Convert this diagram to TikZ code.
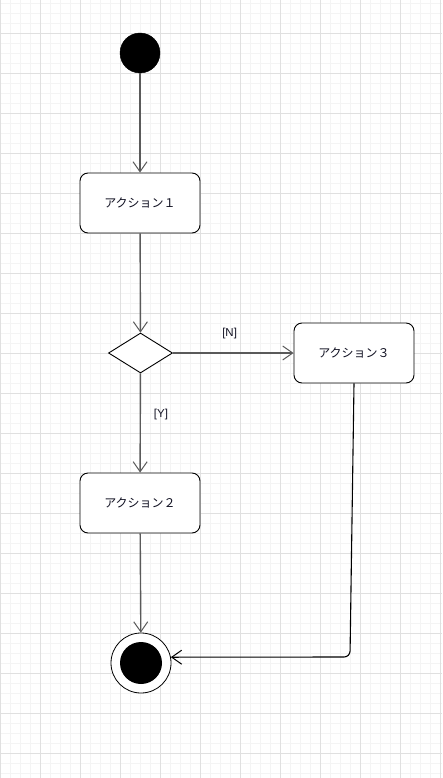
\documentclass[tikz,border=0pt]{standalone}
\usepackage{fontspec}
\newfontfamily\jpfont{Noto Sans CJK JP}
\usetikzlibrary{shapes.geometric,arrows.meta}
\definecolor{gridminor}{HTML}{F4F4F4}
\definecolor{gridmajor}{HTML}{E0E0E0}
\definecolor{connc}{HTML}{5A5A5A}
\definecolor{txtc}{HTML}{111122}
\tikzset{
  actbox/.style={draw=black, line width=0.9pt, rounded corners=8pt, fill=white,
    minimum width=120pt, minimum height=60pt, inner sep=0pt,
    font=\jpfont\fontsize{12}{14}\selectfont, text=txtc},
  decision/.style={draw=black, line width=0.9pt, diamond, fill=white,
    minimum width=64pt, minimum height=40pt, inner sep=0pt, aspect=1.6},
  startnode/.style={circle, fill=black, draw=black, minimum size=40pt, inner sep=0pt},
  endouter/.style={circle, draw=black, line width=0.8pt, fill=white, minimum size=60pt, inner sep=0pt},
  endinner/.style={circle, fill=black, minimum size=42pt, inner sep=0pt},
  conn/.style={draw=connc, line width=1.4pt, -{Straight Barb[length=10pt,width=14pt,line width=1pt]}},
  conndark/.style={draw=black, line width=1.1pt, rounded corners=6pt, -{Straight Barb[length=10pt,width=14pt,line width=1pt]}},
  guard/.style={font=\fontspec{Liberation Sans}\fontsize{11.5}{13}\selectfont, text=txtc, inner sep=0pt},
}
\begin{document}
\begin{tikzpicture}[x=1pt,y=-1pt]
\useasboundingbox (0,0) rectangle (442,778);
\fill[white] (0,0) rectangle (442,778);
\foreach \x in {10,20,...,440} \draw[gridminor, line width=0.7pt] (\x,0) -- (\x,778);
\foreach \y in {3,13,...,773} \draw[gridminor, line width=0.7pt] (0,\y) -- (442,\y);
\foreach \x in {0,40,...,440} \draw[gridmajor, line width=0.9pt] (\x,0) -- (\x,778);
\foreach \y in {33,73,...,773} \draw[gridmajor, line width=0.9pt] (0,\y) -- (442,\y);

\node[startnode] (start) at (140,53) {};
\node[actbox] (a1) at (140,203) {アクション１};
\node[decision] (d) at (140.5,353) {};
\node[actbox] (a3) at (354,353) {アクション３};
\node[actbox] (a2) at (140,503) {アクション２};
\node[endouter] (end) at (141,663) {};
\node[endinner] (endc) at (141,663) {};

\draw[conn] (start) -- (a1);
\draw[conn] (a1) -- (d);
\draw[conn] (d) -- node[guard, pos=0.47, above=13pt] (gn) {[N]} (a3);
\draw[conn] (d) -- node[guard, pos=0.41, right=13pt] (gy) {[Y]} (a2);
\draw[conn] (a2) -- (end);
\draw[conndark] (a3.south) -- (350,657) -- (end.11.5);
\end{tikzpicture}
\end{document}
